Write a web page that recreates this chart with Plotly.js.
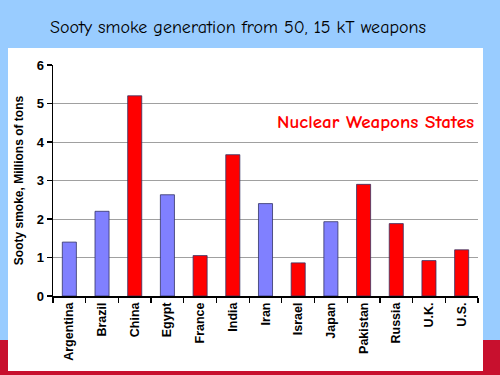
<!DOCTYPE html>
<html>
<head>
<meta charset="utf-8">
<script src="https://cdn.plot.ly/plotly-3.0.1.min.js"></script>
<style>html,body{margin:0;padding:0;background:#99CCFF;}#chart{width:500px;height:375px;}</style>
</head>
<body>
<div id="chart"></div>
<script>
const countries = ["Argentina","Brazil","China","Egypt","France","India","Iran","Israel","Japan","Pakistan","Russia","U.K.","U.S."];
const smoke = [1.4, 2.2, 5.2, 2.63, 1.05, 3.67, 2.4, 0.86, 1.93, 2.9, 1.88, 0.92, 1.2];
const nuclearState = [false,false,true,false,true,true,false,true,false,true,true,true,true];
const yTicks = [0,1,2,3,4,5,6];

const L = 53, T = 65, W = 425, H = 231;
const px = x => (x - L) / W;
const py = y => (T + H - y) / H;

const colors = nuclearState.map(n => n ? "#FF0000" : "#8080FF");

const trace = {
  type: "bar",
  x: countries,
  y: smoke,
  marker: {color: colors, line: {color: "#333366", width: 0.8}},
  hoverinfo: "x+y"
};

const layout = {
  width: 500, height: 375,
  margin: {l: L, r: 500 - L - W, t: T, b: 375 - T - H, pad: 0},
  paper_bgcolor: "#99CCFF",
  plot_bgcolor: "rgba(0,0,0,0)",
  showlegend: false,
  bargap: 0.57,
  title: {
    text: "Sooty smoke generation from 50, 15 kT weapons",
    font: {family: "Comic Sans MS, Comic Neue, DejaVu Sans, sans-serif", size: 18, color: "#000"},
    x: px(238), xanchor: "center", xref: "paper",
    y: 1 - 27/375, yanchor: "middle"
  },
  xaxis: {
    type: "category",
    tickangle: -90,
    tickson: "boundaries",
    ticks: "outside", ticklen: 5, tickcolor: "#000", tickwidth: 1.2,
    showline: true, linecolor: "#000", linewidth: 1.5,
    showgrid: false,
    tickfont: {family: "Liberation Sans, Arial, sans-serif", size: 12.5, color: "#000", weight: "bold"},
    fixedrange: true
  },
  yaxis: {
    range: [0, 6],
    tickvals: yTicks,
    ticks: "outside", ticklen: 5, tickcolor: "#000", tickwidth: 1.2,
    showline: true, linecolor: "#000", linewidth: 1.5,
    showgrid: true, gridcolor: "#A0A0A0", gridwidth: 1,
    zeroline: false,
    tickfont: {family: "Liberation Sans, Arial, sans-serif", size: 13, color: "#000", weight: "bold"},
    title: {
      text: "Sooty smoke, Millions of tons",
      font: {family: "Liberation Sans, Arial, sans-serif", size: 12, color: "#000", weight: "bold"},
      standoff: 10
    },
    fixedrange: true
  },
  shapes: [
    {type: "rect", xref: "paper", yref: "paper", x0: px(-5), x1: px(505), y0: py(340), y1: py(380),
     fillcolor: "#C8102E", line: {width: 0}, layer: "below"},
    {type: "rect", xref: "paper", yref: "paper", x0: px(8), x1: px(483), y0: py(48), y1: py(371),
     fillcolor: "#FFFFFF", line: {width: 0}, layer: "below"}
  ],
  annotations: [
    {text: "Nuclear Weapons States", xref: "paper", yref: "paper",
     x: px(375), y: py(122), xanchor: "center", yanchor: "middle", showarrow: false,
     font: {family: "Comic Sans MS, Comic Neue, DejaVu Sans, sans-serif", size: 19, color: "#FF0000", weight: "bold"}}
  ]
};

Plotly.newPlot("chart", [trace], layout, {displayModeBar: false, staticPlot: true});
</script>
</body>
</html>
